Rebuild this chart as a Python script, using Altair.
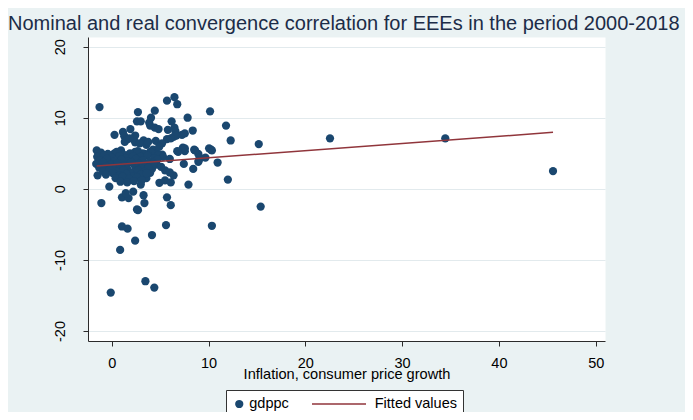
import altair as alt
import pandas as pd

# ---------------- data ----------------
inflation = [
    -1.26, 5.71, 6.48, 6.77, 2.71, 4.45, 4.06, 2.61, 3.0, 3.87, 6.19, 7.84, 10.16,
    11.81, 12.29, 15.19, 22.55, 34.46, 45.59, 3.97, 4.45, 4.84, 5.8, 6.48, 6.58,
    8.37, 7.26, 6.39, 5.71, 4.55, 0.29, 1.16, 1.3, 1.93, 2.42, 1.64, 2.42, 3.29,
    3.58, 4.26, 5.22, 6.77, 7.35, 7.55, 8.52, 8.95, 9.1, 10.06, 10.26, 9.68, 8.95,
    7.45, 8.42, 10.94, 12.0, 7.93, 15.39, -1.55, -1.46, -0.25, -1.07, 1.06, 1.74,
    1.45, 2.22, 3.0, 3.29, 3.38, 2.61, 2.71, 5.71, 6.1, 5.61, 1.06, 1.64, 10.35,
    4.16, 2.42, 0.87, 3.48, 4.4, -0.1, 4.93, 5.51, 6.1, 6.39, 6.0, 5.51, 3.97,
    4.16, 4.64, 3.58, 7.55, 8.61, 9.0, 10.35, 6.68, 6.1, 1.35, 1.84, 2.9, 3.77,
    -0.68, 0.29, 0.96, 1.55, 2.42, 3.19, 3.97, 4.64, 6.87, 7.55, 5.2, 4.9,
    -1.1, -0.4, 0.5, 1.2, 1.9, 2.7, 3.4, 4.1, 4.8,
    -1.5, -0.8, 0.0, 0.8, 1.5, 2.2, 3.0, 3.7, 4.4, 5.3,
    -1.2, -0.5, 0.3, 1.0, 1.7, 2.5, 3.2, 3.9, 4.7, 6.0,
    -1.6, -0.9, -0.1, 0.6, 1.3, 2.0, 2.8, 3.5, 4.3,
    -1.3, -0.6, 0.2, 0.9, 1.6, 2.4, 3.1, 3.8, 5.1,
    -0.9, -0.2, 0.5, 1.2, 2.0, 2.7, 3.4,
    -0.6, 0.1, 0.8, 1.5, 2.3, 3.0, 3.6,
    0.4, 1.1, 1.8, 2.6, 3.1,
    0.9, 1.6, 2.3,
]
gdppc = [
    11.5, 12.4, 12.9, 11.9, 10.8, 11.0, 10.0, 9.5, 9.5, 9.3, 9.5, 10.0, 10.9,
    8.9, 6.8, 6.3, 7.1, 7.1, 2.5, 8.9, 8.6, 8.4, 8.3, 8.6, 8.1,
    8.2, 7.6, 7.3, 7.0, 6.75, 7.6, 8.0, 7.4, 8.4, 7.5, 7.0, 6.55, 6.8,
    6.2, 5.5, 4.8, 5.3, 5.8, 5.3, 5.5, 4.9, 4.4, 5.7, 5.5, 4.4, 3.8,
    3.5, 2.8, 3.7, 1.3, 0.6, -2.5, 5.4, 1.9, 0.3, -2.0, -1.2, -1.3,
    -0.6, -0.4, 0.6, -0.9, -2.0, -2.9, -3.0, -1.2, -2.3, -5.1, -5.3, -5.6, -5.2,
    -6.5, -7.3, -8.6, -13.0, -13.9, -14.6, 0.85, 1.2, 0.9, 1.9, 2.3, 2.6, 2.25,
    2.8, 3.4, 1.5, 7.8, 5.4, 4.0, 5.4, 7.5, 7.1, 6.6, 7.1, 6.4, 6.6,
    4.7, 5.0, 5.4, 4.7, 5.2, 5.0, 5.2, 5.0, 5.2, 5.7, 6.4, 5.9,
    5.1, 4.9, 5.2, 4.8, 5.0, 5.3, 4.9, 5.1, 4.7,
    4.5, 4.7, 4.4, 4.6, 4.3, 4.6, 4.5, 4.7, 4.3, 4.5,
    4.0, 4.2, 3.9, 4.1, 3.8, 4.2, 4.0, 3.8, 4.1, 4.2,
    3.5, 3.7, 3.4, 3.6, 3.3, 3.7, 3.5, 3.3, 3.6,
    3.0, 3.2, 2.9, 3.1, 2.8, 3.2, 2.9, 3.0, 3.1,
    2.5, 2.7, 2.4, 2.6, 2.3, 2.6, 2.4,
    2.0, 2.2, 1.9, 2.1, 1.8, 2.0, 2.2,
    1.5, 1.7, 1.4, 1.6, 1.2,
    1.0, 0.9, 1.1,
]
fit_inflation = [-1.55, 45.59]
fit_values = [3.2, 7.95]
series_names = ["gdppc", "Fitted values"]
series_colors = ["#1a476f", "#90353b"]
x_ticks = [0, 10, 20, 30, 40, 50]
y_ticks = [-20, -10, 0, 10, 20]
title_text = "Nominal and real convergence correlation for EEEs in the period 2000-2018"
x_title = "Inflation, consumer price growth"

pts = pd.DataFrame({"inflation": inflation, "gdppc": gdppc})
pts["series"] = series_names[0]
fit = pd.DataFrame({"inflation": fit_inflation, "gdppc": fit_values})
fit["series"] = series_names[1]

FONT = "Liberation Sans"
AX = "#2b2b2b"

xscale = alt.Scale(domain=[-2.45, 50.96], nice=False, zero=False)
yscale = alt.Scale(domain=[-21.41, 21.36], nice=False, zero=False)
color_scale = alt.Scale(domain=series_names, range=series_colors)
# legend swatch for the fitted line: a thin bar drawn as a custom symbol
shape_scale = alt.Scale(domain=series_names,
                        range=["circle", "M-1,-0.025H0.8V0.025H-1Z"])
size_scale = alt.Scale(domain=series_names, range=[68, 3600])

legend = alt.Legend(
    orient="none", legendX=138, legendY=353, direction="horizontal",
    fillColor="white", strokeColor="#333333", padding=6, cornerRadius=0,
    labelFont=FONT, labelFontSize=14.5, labelColor="black", labelOffset=2.75,
    columnPadding=23, symbolStrokeWidth=0, symbolOpacity=1, clipHeight=16,
)

x_axis = alt.Axis(
    values=x_ticks, title=x_title, grid=False,
    labelFont=FONT, labelFontSize=14.5, labelColor="black", labelPadding=10,
    titleFont=FONT, titleFontSize=14.6, titleFontWeight="normal", titleColor="black",
    titleBaseline="top", titleY=25,
    tickSize=5, tickColor=AX, domainColor=AX, tickWidth=1, domainWidth=1,
)
y_axis = alt.Axis(
    values=y_ticks, title=None, grid=True, gridColor="#e2eaed", gridWidth=1.2,
    labelFont=FONT, labelFontSize=14.5, labelColor="black", labelPadding=19,
    labelAngle=270, labelAlign="center", labelBaseline="alphabetic",
    labelExpr="datum.value < 0 ? '-' + abs(datum.value) : '' + datum.value",
    tickSize=5, tickColor=AX, domainColor=AX, tickWidth=1, domainWidth=1,
)

points = alt.Chart(pts).mark_point(filled=True, opacity=1, strokeWidth=0).encode(
    x=alt.X("inflation:Q", scale=xscale, axis=x_axis),
    y=alt.Y("gdppc:Q", scale=yscale, axis=y_axis),
    color=alt.Color("series:N", scale=color_scale, legend=legend, title=None),
    shape=alt.Shape("series:N", scale=shape_scale, legend=legend, title=None),
    size=alt.Size("series:N", scale=size_scale, legend=legend, title=None),
)

line = alt.Chart(fit).mark_line(strokeWidth=1.5).encode(
    x=alt.X("inflation:Q", scale=xscale),
    y=alt.Y("gdppc:Q", scale=yscale),
    color=alt.Color("series:N", scale=color_scale, legend=legend, title=None),
)

chart = alt.layer(points, line).properties(
    width=517, height=304,
    background="#eaf2f3",
    padding={"left": 80, "top": 29, "right": 80, "bottom": 71},
    autosize=alt.AutoSizeParams(type="none"),
    title=alt.TitleParams(
        text=title_text, anchor="start", frame="group", dx=-80, offset=3,
        font=FONT, fontSize=20, fontWeight="normal", color="#1c2c48",
    ),
).configure_view(fill="white", stroke="transparent")

chart.save("out.html", embed_options={"renderer": "svg", "actions": False})
